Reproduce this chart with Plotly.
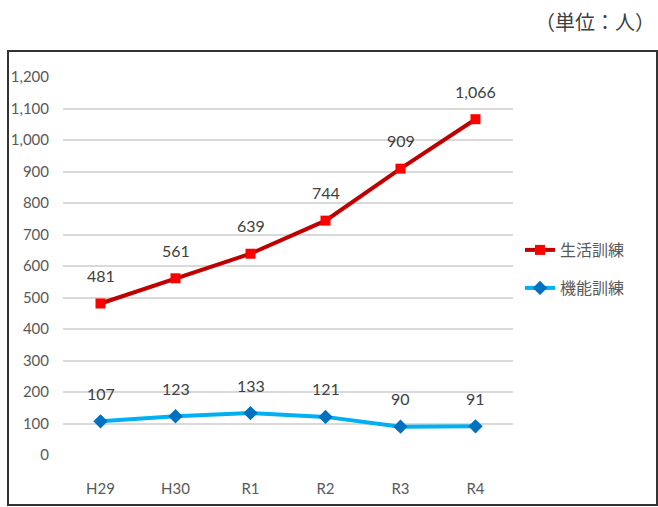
import plotly.graph_objects as go

# Fiscal years and head counts for the two training programs
years = ["H29", "H30", "R1", "R2", "R3", "R4"]
life_training = [481, 561, 639, 744, 909, 1066]
function_training = [107, 123, 133, 121, 90, 91]
y_ticks = list(range(0, 1201, 100))

W, H = 658, 507
L, R, T, B = 63, 145, 77, 52
pw, ph = W - L - R, H - T - B


def px_x(x):
    return (x - L) / pw


def px_y(y):
    return (H - B - y) / ph


num_font = "Lato, 'Noto Sans CJK JP', sans-serif"
jp_font = "'Noto Sans CJK JP', sans-serif"

fig = go.Figure()
fig.add_trace(go.Scatter(
    x=years, y=life_training, name="生活訓練",
    mode="lines+markers",
    line=dict(color="#C00000", width=4),
    marker=dict(symbol="square", size=10, color="#FF0000"),
    legend="legend",
))
fig.add_trace(go.Scatter(
    x=years, y=function_training, name="機能訓練",
    mode="lines+markers",
    line=dict(color="#00B0F0", width=4),
    marker=dict(symbol="diamond", size=11, color="#0070C0"),
    legend="legend2",
))

# value labels sitting above each point
value_labels = []
for series in (life_training, function_training):
    for yr, v in zip(years, series):
        value_labels.append(dict(
            x=yr, y=v, xref="x", yref="y", text=f"{v:,}",
            showarrow=False, yshift=28, yanchor="middle",
            font=dict(family=num_font, size=16, color="#404040"),
        ))

legend_common = dict(
    xanchor="left", yanchor="middle", bgcolor="rgba(0,0,0,0)",
    font=dict(family=jp_font, size=16, color="#595959"),
    itemwidth=30,
)
fig.update_layout(
    width=W, height=H,
    margin=dict(l=L, r=R, t=T, b=B, autoexpand=False),
    paper_bgcolor="white", plot_bgcolor="white",
    showlegend=True,
    legend=dict(x=px_x(520), y=px_y(250), **legend_common),
    legend2=dict(x=px_x(520), y=px_y(288), **legend_common),
    xaxis=dict(
        range=[-0.5, 5.5], showgrid=False, zeroline=False, showline=False,
        automargin=False,
        ticks="outside", ticklen=20, tickcolor="rgba(0,0,0,0)",
        tickfont=dict(family=num_font, size=15, color="#595959"),
    ),
    yaxis=dict(
        range=[0, 1200], tickvals=y_ticks,
        ticktext=[f"{v:,}" for v in y_ticks],
        showgrid=True, gridcolor="#D9D9D9", gridwidth=1.5,
        zeroline=False, showline=False, automargin=False,
        ticks="outside", ticklen=10, tickcolor="rgba(0,0,0,0)",
        tickfont=dict(family=num_font, size=15, color="#595959"),
    ),
    shapes=[dict(
        type="rect", xref="paper", yref="paper",
        x0=px_x(8), x1=px_x(657), y0=px_y(505), y1=px_y(51),
        line=dict(color="#333333", width=2), fillcolor="rgba(0,0,0,0)",
        layer="below",
    )],
    annotations=value_labels + [dict(
        text="（単位：人）", xref="paper", yref="paper",
        x=px_x(657), y=px_y(22), xanchor="right", yanchor="middle",
        showarrow=False, font=dict(family=jp_font, size=20, color="#404040"),
    )],
)

fig.write_html("out.html")
